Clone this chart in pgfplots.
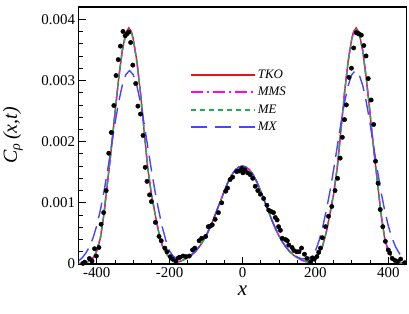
\documentclass[border=0pt]{standalone}
\usepackage{pgfplots}
\usepackage{pgfplotstable}
\pgfplotsset{compat=1.18}
\usepackage{fontspec}
\setmainfont{Liberation Serif}
\definecolor{tkocol}{RGB}{230,20,20}
\definecolor{mmscol}{RGB}{255,0,255}
\definecolor{mecol}{RGB}{20,180,80}
\definecolor{mxcol}{RGB}{70,70,255}

% values of C in units of 0.001
\pgfplotstableread{
x y
-450 0.005
-440 0.012
-430 0.025
-420 0.050
-410 0.100
-400 0.210
-390 0.420
-380 0.820
-370 1.350
-360 1.880
-350 2.460
-340 3.020
-330 3.490
-320 3.780
-312 3.860
-305 3.800
-300 3.690
-290 3.320
-280 2.800
-270 2.180
-260 1.570
-250 1.140
-240 0.820
-230 0.520
-220 0.300
-210 0.180
-200 0.100
-190 0.042
-180 0.032
-170 0.046
-160 0.072
-150 0.105
-140 0.145
-130 0.200
-120 0.270
-110 0.355
-100 0.460
-90 0.585
-80 0.725
-70 0.880
-60 1.035
-50 1.190
-40 1.335
-30 1.450
-20 1.535
-10 1.585
0 1.600
10 1.585
20 1.535
30 1.450
40 1.335
50 1.190
60 1.035
70 0.880
80 0.725
90 0.585
100 0.460
110 0.355
120 0.270
130 0.200
140 0.145
150 0.105
160 0.072
170 0.046
180 0.032
190 0.042
200 0.100
210 0.180
220 0.300
230 0.520
240 0.820
250 1.140
260 1.570
270 2.180
280 2.800
290 3.320
300 3.690
305 3.800
312 3.860
320 3.780
330 3.490
340 3.020
350 2.460
360 1.880
370 1.350
380 0.820
390 0.420
400 0.210
410 0.100
420 0.050
430 0.025
440 0.012
450 0.005
}\tkodata

\pgfplotstableread{
x y
-450 0.005
-440 0.012
-430 0.025
-420 0.050
-410 0.100
-400 0.212
-390 0.425
-380 0.825
-370 1.355
-360 1.885
-350 2.460
-340 3.015
-330 3.480
-320 3.765
-312 3.835
-305 3.785
-300 3.680
-290 3.315
-280 2.800
-270 2.185
-260 1.575
-250 1.145
-240 0.822
-230 0.520
-220 0.298
-210 0.178
-200 0.098
-190 0.040
-180 0.030
-170 0.045
-160 0.071
-150 0.105
-140 0.145
-130 0.200
-120 0.270
-110 0.355
-100 0.460
-90 0.585
-80 0.725
-70 0.880
-60 1.035
-50 1.190
-40 1.335
-30 1.450
-20 1.535
-10 1.585
0 1.598
10 1.585
20 1.535
30 1.450
40 1.335
50 1.190
60 1.035
70 0.880
80 0.725
90 0.585
100 0.460
110 0.355
120 0.270
130 0.200
140 0.145
150 0.105
160 0.071
170 0.045
180 0.030
190 0.040
200 0.098
210 0.178
220 0.298
230 0.520
240 0.822
250 1.145
260 1.575
270 2.185
280 2.800
290 3.315
300 3.680
305 3.785
312 3.835
320 3.765
330 3.480
340 3.015
350 2.460
360 1.885
370 1.355
380 0.825
390 0.425
400 0.212
410 0.100
420 0.050
430 0.025
440 0.012
450 0.005
}\mmsdata

\pgfplotstableread{
x y
-450 0.005
-440 0.012
-430 0.025
-420 0.050
-410 0.102
-400 0.214
-390 0.428
-380 0.830
-370 1.360
-360 1.890
-350 2.465
-340 3.020
-330 3.480
-320 3.760
-312 3.830
-305 3.780
-300 3.675
-290 3.310
-280 2.795
-270 2.185
-260 1.580
-250 1.150
-240 0.826
-230 0.524
-220 0.300
-210 0.178
-200 0.098
-190 0.040
-180 0.031
-170 0.045
-160 0.071
-150 0.104
-140 0.145
-130 0.200
-120 0.270
-110 0.355
-100 0.460
-90 0.585
-80 0.725
-70 0.880
-60 1.035
-50 1.190
-40 1.335
-30 1.450
-20 1.535
-10 1.585
0 1.600
10 1.585
20 1.535
30 1.450
40 1.335
50 1.190
60 1.035
70 0.880
80 0.725
90 0.585
100 0.460
110 0.355
120 0.270
130 0.200
140 0.145
150 0.104
160 0.071
170 0.045
180 0.031
190 0.040
200 0.098
210 0.178
220 0.300
230 0.524
240 0.826
250 1.150
260 1.580
270 2.185
280 2.795
290 3.310
300 3.675
305 3.780
312 3.830
320 3.760
330 3.480
340 3.020
350 2.465
360 1.890
370 1.360
380 0.830
390 0.428
400 0.214
410 0.102
420 0.050
430 0.025
440 0.012
450 0.005
}\medata

\pgfplotstableread{
x y
-450 0.050
-440 0.100
-430 0.177
-420 0.281
-410 0.428
-400 0.625
-390 0.879
-380 1.186
-370 1.538
-360 1.917
-350 2.295
-340 2.640
-330 2.917
-320 3.097
-310 3.160
-300 3.097
-290 2.917
-280 2.640
-270 2.295
-260 1.917
-250 1.538
-240 1.186
-230 0.879
-220 0.600
-210 0.380
-200 0.210
-190 0.125
-180 0.090
-170 0.082
-160 0.090
-150 0.115
-140 0.155
-130 0.205
-120 0.272
-110 0.357
-100 0.460
-90 0.585
-80 0.725
-70 0.880
-60 1.035
-50 1.190
-40 1.335
-30 1.450
-20 1.535
-10 1.585
0 1.600
10 1.585
20 1.535
30 1.450
40 1.335
50 1.190
60 1.035
70 0.880
80 0.725
90 0.585
100 0.460
110 0.357
120 0.272
130 0.205
140 0.155
150 0.115
160 0.090
170 0.082
180 0.090
190 0.125
200 0.210
210 0.380
220 0.600
230 0.879
240 1.186
250 1.538
260 1.917
270 2.295
280 2.640
290 2.917
300 3.097
310 3.160
320 3.097
330 2.917
340 2.640
350 2.295
360 1.917
370 1.538
380 1.186
390 0.879
400 0.625
410 0.428
420 0.281
430 0.177
440 0.100
450 0.050
}\mxdata

\pgfplotstableread{
x y
-438 0.01
-433 0.03
-420 0.09
-413 0.05
-406 0.25
-401 0.13
-394 0.27
-388 0.65
-381 0.84
-374 1.20
-367 1.81
-360 2.15
-353 2.59
-347 3.08
-341 3.34
-335 3.56
-328 3.80
-322 3.73
-317 3.76
-312 3.79
-307 3.62
-301 3.25
-293 2.95
-287 2.58
-280 2.45
-273 2.10
-267 1.58
-262 1.35
-255 1.13
-250 1.02
-239 0.68
-229 0.45
-223 0.38
-213 0.26
-207 0.20
-198 0.12
-192 0.08
-183 0.05
-176 0.10
-172 0.11
-163 0.13
-155 0.12
-146 0.13
-137 0.23
-131 0.26
-119 0.38
-112 0.42
-101 0.45
-94 0.61
-88 0.62
-83 0.64
-75 0.73
-66 0.84
-57 1.00
-46 1.19
-41 1.24
-34 1.38
-27 1.42
-16 1.51
-9 1.52
-2 1.56
1 1.49
7 1.54
14 1.49
21 1.46
28 1.40
35 1.27
42 1.20
49 1.14
58 1.07
67 0.96
72 0.88
78 0.86
85 0.84
90 0.76
95 0.72
99 0.61
104 0.55
109 0.42
118 0.40
123 0.38
127 0.31
136 0.27
141 0.22
149 0.20
155 0.20
162 0.26
170 0.16
177 0.09
187 0.04
192 0.10
197 0.08
204 0.12
209 0.19
214 0.26
219 0.43
228 0.61
236 0.78
245 0.94
254 1.20
261 1.40
268 1.73
274 2.07
280 2.36
285 2.60
292 3.05
299 3.20
305 3.53
312 3.78
316 3.77
320 3.76
326 3.74
333 3.57
339 3.40
345 3.03
353 2.68
360 2.28
365 1.68
372 1.32
378 0.89
385 0.61
392 0.37
400 0.23
404 0.18
411 0.09
418 0.06
425 0.04
434 0.08
445 0.02
}\pointdata

\begin{document}
\begin{tikzpicture}
\path[use as bounding box] (0,0) rectangle (409bp,314bp);
\begin{axis}[
  at={(78.5bp,50bp)}, anchor=south west,
  scale only axis, width=328bp, height=257bp,
  xmin=-450, xmax=450, ymin=0, ymax=4.2,
  xtick={-400,-200,0,200,400},
  xticklabels={-400,-200,0,200,400},
  ytick={0,1,2,3,4},
  yticklabels={0,0.001,0.002,0.003,0.004},
  minor x tick num=3, minor y tick num=4,
  tick align=inside, xtick pos=lower, ytick pos=left,
  major tick length=7bp, minor tick length=4bp,
  axis line style={line width=1.2bp},
  tick style={black, line width=0.8bp},
  tick label style={font=\fontsize{15}{15}\selectfont},
  xlabel={\itshape x},
  ylabel={\itshape C\textsubscript{ρ}\,(x,t)},
  xlabel style={at={(axis description cs:0.5,-0.105)}, anchor=center, font=\fontsize{21}{21}\selectfont},
  ylabel style={at={(axis description cs:-0.2,0.5)}, anchor=center, rotate=0, font=\fontsize{20}{20}\selectfont},
  legend cell align=left,
  legend style={at={(axis description cs:0.33,0.772)}, anchor=north west,
    draw=none, fill=none, font=\fontsize{13}{13}\selectfont\itshape,
    row sep=3.5bp},
]
\addplot[color=tkocol, line width=1.4bp, solid,
  legend image code/.code={\draw[color=tkocol, line width=1.9bp, solid] (0bp,0bp) -- (64bp,0bp);}] table {\tkodata};
\addlegendentry{TKO}
\addplot[color=mmscol, line width=1.4bp, dash pattern=on 12bp off 4bp on 2bp off 4bp,
  legend image code/.code={\draw[color=mmscol, line width=1.9bp, dash pattern=on 12bp off 4bp on 2bp off 4bp] (0bp,0bp) -- (64bp,0bp);}] table {\mmsdata};
\addlegendentry{MMS}
\addplot[color=mecol, line width=1.4bp, dash pattern=on 5.5bp off 3.5bp,
  legend image code/.code={\draw[color=mecol, line width=1.9bp, dash pattern=on 5.5bp off 3.5bp] (0bp,0bp) -- (64bp,0bp);}] table {\medata};
\addlegendentry{ME}
\addplot[color=mxcol, line width=1.4bp, dash pattern=on 16bp off 8bp,
  legend image code/.code={\draw[color=mxcol, line width=1.9bp, dash pattern=on 16bp off 8bp] (0bp,0bp) -- (64bp,0bp);}] table {\mxdata};
\addlegendentry{MX}
\addplot[only marks, mark=*, mark size=2.2bp, black, forget plot] table {\pointdata};
\end{axis}
\end{tikzpicture}
\end{document}
